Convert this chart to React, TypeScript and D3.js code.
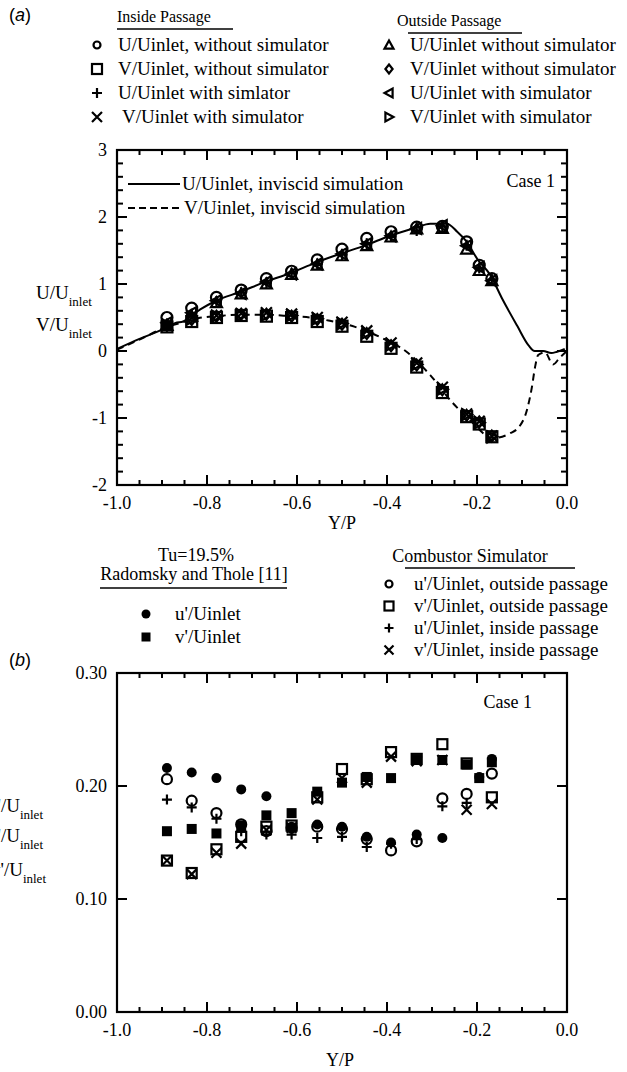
import React from 'react';
import * as d3 from 'd3';

const SERIF = '"Liberation Serif", "Times New Roman", Times, serif';
const SANS = '"Liberation Sans", Arial, Helvetica, sans-serif';

// Measurement stations across the passage, Y/P
const stations = [-0.889, -0.834, -0.779, -0.724, -0.668, -0.612, -0.555, -0.5, -0.445, -0.391, -0.334, -0.277, -0.223, -0.195, -0.167];

// (a) mean velocities — inside passage
const uInNoSim = [0.5, 0.64, 0.8, 0.91, 1.08, 1.19, 1.36, 1.52, 1.68, 1.78, 1.85, 1.86, 1.63, 1.28, 1.08];
const vInNoSim = [0.36, 0.44, 0.5, 0.53, 0.52, 0.5, 0.44, 0.37, 0.22, 0.04, -0.24, -0.62, -0.98, -1.09, -1.28];
const uInSim = [0.4, 0.55, 0.74, 0.87, 1.02, 1.16, 1.3, 1.44, 1.6, 1.71, 1.8, 1.86, 1.58, 1.24, 1.06];
const vInSim = [0.4, 0.5, 0.53, 0.56, 0.57, 0.55, 0.5, 0.43, 0.3, 0.12, -0.18, -0.54, -0.94, -1.05, -1.27];
// (a) mean velocities — outside passage
const uOutNoSim = [0.38, 0.52, 0.72, 0.85, 1.0, 1.14, 1.28, 1.42, 1.57, 1.7, 1.82, 1.83, 1.52, 1.2, 1.05];
const vOutNoSim = [0.38, 0.47, 0.52, 0.55, 0.55, 0.52, 0.47, 0.4, 0.26, 0.08, -0.21, -0.58, -0.96, -1.06, -1.27];
const uOutSim = [0.42, 0.57, 0.75, 0.86, 1.03, 1.15, 1.3, 1.45, 1.6, 1.72, 1.83, 1.87, 1.57, 1.25, 1.05];
const vOutSim = [0.39, 0.48, 0.52, 0.54, 0.54, 0.53, 0.48, 0.41, 0.27, 0.09, -0.2, -0.57, -0.95, -1.07, -1.28];

// (a) inviscid simulation profiles [Y/P, value]
const inviscidU: [number, number][] = [
  [-1.0, 0.03], [-0.95, 0.18], [-0.893, 0.34], [-0.87, 0.42], [-0.853, 0.44], [-0.838, 0.52], [-0.815, 0.62],
  [-0.78, 0.75], [-0.727, 0.88], [-0.671, 1.03], [-0.616, 1.16], [-0.558, 1.32], [-0.504, 1.45], [-0.447, 1.58],
  [-0.393, 1.72], [-0.336, 1.84], [-0.304, 1.9], [-0.267, 1.9], [-0.244, 1.78], [-0.224, 1.64], [-0.198, 1.36],
  [-0.171, 1.14], [-0.144, 0.78], [-0.111, 0.38], [-0.085, 0.08], [-0.072, 0.0], [-0.053, 0.0], [-0.035, -0.03],
  [-0.022, -0.01], [-0.005, 0.03],
];
const inviscidV: [number, number][] = [
  [-1.0, 0.02], [-0.95, 0.17], [-0.893, 0.35], [-0.853, 0.43], [-0.82, 0.49], [-0.78, 0.52], [-0.727, 0.54],
  [-0.671, 0.54], [-0.616, 0.52], [-0.558, 0.49], [-0.527, 0.45], [-0.471, 0.36], [-0.416, 0.21], [-0.353, -0.03],
  [-0.304, -0.36], [-0.256, -0.76], [-0.216, -1.03], [-0.164, -1.3], [-0.127, -1.23], [-0.105, -1.12],
  [-0.089, -0.88], [-0.078, -0.54], [-0.071, -0.24], [-0.064, -0.06], [-0.049, -0.02], [-0.031, -0.2],
  [-0.016, -0.1], [0.0, 0.0],
];

// (b) fluctuations — Radomsky and Thole, Tu = 19.5%
const radU = [0.216, 0.212, 0.207, 0.197, 0.191, 0.163, 0.166, 0.164, 0.155, 0.15, 0.157, 0.154, null, 0.208, 0.224];
const radV = [0.16, 0.162, 0.158, 0.165, 0.174, 0.176, 0.195, 0.203, 0.208, 0.207, 0.223, 0.223, 0.219, 0.207, 0.221];
// (b) fluctuations — combustor simulator
const uPrimeOut = [0.206, 0.187, 0.176, 0.166, 0.16, 0.163, 0.164, 0.162, 0.153, 0.143, 0.151, 0.189, 0.193, null, 0.211];
const vPrimeOut = [0.134, 0.123, 0.144, 0.155, 0.164, 0.165, 0.19, 0.215, 0.206, 0.23, 0.224, 0.237, 0.22, null, 0.19];
const uPrimeIn = [0.188, 0.181, 0.171, 0.16, 0.157, 0.157, 0.154, 0.155, 0.146, 0.149, 0.153, 0.182, 0.185, null, null];
const vPrimeIn = [0.134, 0.122, 0.141, 0.149, 0.161, 0.163, 0.188, 0.207, 0.203, 0.226, 0.222, 0.223, 0.179, null, 0.184];

// Legend texts
const insideLabels = ['U/Uinlet, without simulator', 'V/Uinlet, without simulator', 'U/Uinlet with simlator', 'V/Uinlet with simulator'];
const outsideLabels = ['U/Uinlet without simulator', 'V/Uinlet without simulator', 'U/Uinlet with simulator', 'V/Uinlet with simulator'];
const radLabels = ["u'/Uinlet", "v'/Uinlet"];
const combLabels = ["u'/Uinlet, outside passage", "v'/Uinlet, outside passage", "u'/Uinlet, inside passage", "v'/Uinlet, inside passage"];

type Kind = 'circle' | 'square' | 'plus' | 'cross' | 'triUp' | 'diamond' | 'triLeft' | 'triRight' | 'dot' | 'block';

function Marker({ kind, x, y, r = 5 }: { kind: Kind; x: number; y: number; r?: number }) {
  const s = { stroke: '#000', strokeWidth: 2.2, fill: 'none' } as const;
  switch (kind) {
    case 'circle':
      return <circle cx={x} cy={y} r={r} {...s} />;
    case 'dot':
      return <circle cx={x} cy={y} r={r} fill="#000" />;
    case 'square':
      return <rect x={x - r} y={y - r} width={2 * r} height={2 * r} {...s} />;
    case 'block':
      return <rect x={x - r} y={y - r} width={2 * r} height={2 * r} fill="#000" />;
    case 'plus':
      return <path d={`M${x - r},${y}H${x + r}M${x},${y - r}V${y + r}`} {...s} />;
    case 'cross':
      return <path d={`M${x - r},${y - r}L${x + r},${y + r}M${x + r},${y - r}L${x - r},${y + r}`} {...s} />;
    case 'triUp':
      return <path d={`M${x},${y - r}L${x + r},${y + r * 0.8}L${x - r},${y + r * 0.8}Z`} {...s} />;
    case 'diamond':
      return <path d={`M${x},${y - r}L${x + r * 0.8},${y}L${x},${y + r}L${x - r * 0.8},${y}Z`} {...s} />;
    case 'triLeft':
      return <path d={`M${x - r},${y}L${x + r * 0.8},${y - r}L${x + r * 0.8},${y + r}Z`} {...s} />;
    case 'triRight':
      return <path d={`M${x + r},${y}L${x - r * 0.8},${y - r}L${x - r * 0.8},${y + r}Z`} {...s} />;
  }
  return null;
}

const xA = d3.scaleLinear().domain([-1, 0]).range([117, 567]);
const yA = d3.scaleLinear().domain([-2, 3]).range([485, 150]);
const xB = d3.scaleLinear().domain([-1, 0]).range([117, 567]);
const yB = d3.scaleLinear().domain([0, 0.3]).range([1012, 673]);

const fmtX = (v: number) => (Math.abs(v) < 1e-9 ? '0.0' : v.toFixed(1));

function Frame({
  x, y, yMajor, yMinor, yFmt, case1,
}: {
  x: d3.ScaleLinear<number, number>;
  y: d3.ScaleLinear<number, number>;
  yMajor: number[];
  yMinor: number[];
  yFmt: (v: number) => string;
  case1: [number, number];
}) {
  const [x0, x1] = x.range();
  const [y0, y1] = y.range();
  const xMajor = d3.ticks(-1, 0, 5);
  const xMinor = d3.ticks(-1, 0, 20);
  const isMajor = (v: number, arr: number[]) => arr.some((m) => Math.abs(m - v) < 1e-9);
  return (
    <g>
      <rect x={x0} y={y1} width={x1 - x0} height={y0 - y1} fill="none" stroke="#000" strokeWidth={2.2} />
      {xMinor.map((v, i) => {
        const len = isMajor(v, xMajor) ? 10 : 5;
        const px = x(v);
        return (
          <g key={'xt' + i}>
            <line x1={px} x2={px} y1={y0} y2={y0 - len} stroke="#000" strokeWidth={2} />
            <line x1={px} x2={px} y1={y1} y2={y1 + len} stroke="#000" strokeWidth={2} />
          </g>
        );
      })}
      {yMinor.map((v, i) => {
        const len = isMajor(v, yMajor) ? 10 : 6;
        const py = y(v);
        return (
          <g key={'yt' + i}>
            <line x1={x0} x2={x0 + len} y1={py} y2={py} stroke="#000" strokeWidth={2} />
            <line x1={x1} x2={x1 - len} y1={py} y2={py} stroke="#000" strokeWidth={2} />
          </g>
        );
      })}
      {xMajor.map((v, i) => (
        <text key={'xl' + i} x={x(v)} y={y0 + 24} textAnchor="middle" fontSize={18} fontFamily={SERIF}>
          {fmtX(v)}
        </text>
      ))}
      {yMajor.map((v, i) => (
        <text key={'yl' + i} x={x0 - 10} y={y(v) + 6} textAnchor="end" fontSize={18} fontFamily={SERIF}>
          {yFmt(v)}
        </text>
      ))}
      <text x={case1[0]} y={case1[1]} textAnchor="end" fontSize={18} fontFamily={SERIF}>Case 1</text>
    </g>
  );
}

function SubLabel({ x, y, main, anchor = 'start' }: { x: number; y: number; main: string; anchor?: string }) {
  return (
    <text x={x} y={y} fontSize={19} fontFamily={SERIF} textAnchor={anchor as any}>
      {main}
      <tspan fontSize={13} dy={7}>inlet</tspan>
    </text>
  );
}

export default function App() {
  const seriesA: { values: number[]; kind: Kind }[] = [
    { values: uInNoSim, kind: 'circle' },
    { values: vInNoSim, kind: 'square' },
    { values: uOutNoSim, kind: 'triUp' },
    { values: vOutNoSim, kind: 'diamond' },
    { values: uOutSim, kind: 'triLeft' },
    { values: vOutSim, kind: 'triRight' },
    { values: uInSim, kind: 'plus' },
    { values: vInSim, kind: 'cross' },
  ];
  const seriesB: { values: (number | null)[]; kind: Kind }[] = [
    { values: uPrimeOut, kind: 'circle' },
    { values: vPrimeOut, kind: 'square' },
    { values: uPrimeIn, kind: 'plus' },
    { values: vPrimeIn, kind: 'cross' },
    { values: radU, kind: 'dot' },
    { values: radV, kind: 'block' },
  ];
  const line = d3.line<[number, number]>().x((d) => xA(d[0])).y((d) => yA(d[1])).curve(d3.curveMonotoneX);
  const insideKinds: Kind[] = ['circle', 'square', 'plus', 'cross'];
  const outsideKinds: Kind[] = ['triUp', 'diamond', 'triLeft', 'triRight'];
  const combKinds: Kind[] = ['circle', 'square', 'plus', 'cross'];
  const radKinds: Kind[] = ['dot', 'block'];
  const rowsA = [45, 69, 93, 117];

  return (
    <svg width={627} height={1072} style={{ position: 'absolute', left: 0, top: 0, background: '#fff' }} fontFamily={SERIF}>
      <rect width={627} height={1072} fill="#fff" />
      {/* panel (a) header legend */}
      <text x={9} y={21} fontSize={18} fontFamily={SANS}>(<tspan fontStyle="italic">a</tspan>)</text>
      <text x={117} y={22} fontSize={16}>Inside Passage</text>
      <line x1={117} x2={233} y1={29} y2={29} stroke="#000" strokeWidth={1.5} />
      {insideLabels.map((t, i) => (
        <g key={'il' + i}>
          <Marker kind={insideKinds[i]} x={97} y={rowsA[i]} r={i === 0 ? 3.5 : 5} />
          <text x={i === 3 ? 122 : 118} y={rowsA[i] + 6} fontSize={19}>{t}</text>
        </g>
      ))}
      <text x={397} y={26} fontSize={16}>Outside Passage</text>
      <line x1={408} x2={522} y1={33} y2={33} stroke="#000" strokeWidth={1.5} />
      {outsideLabels.map((t, i) => (
        <g key={'ol' + i}>
          <Marker kind={outsideKinds[i]} x={389} y={rowsA[i]} r={4.5} />
          <text x={410} y={rowsA[i] + 6} fontSize={19}>{t}</text>
        </g>
      ))}

      {/* panel (a) */}
      <Frame x={xA} y={yA} yMajor={d3.ticks(-2, 3, 5)} yMinor={d3.ticks(-2, 3, 25)} yFmt={(v) => String(v)} case1={[555, 187]} />
      <path d={line(inviscidU) || ''} fill="none" stroke="#000" strokeWidth={2} />
      <path d={line(inviscidV) || ''} fill="none" stroke="#000" strokeWidth={2} strokeDasharray="7 5" />
      {seriesA.map((s, si) =>
        s.values.map((v, i) => <Marker key={`a${si}-${i}`} kind={s.kind} x={xA(stations[i])} y={yA(v)} r={5.5} />),
      )}
      <line x1={128} x2={180} y1={184} y2={184} stroke="#000" strokeWidth={2} />
      <text x={182} y={190} fontSize={19}>U/Uinlet, inviscid simulation</text>
      <line x1={128} x2={180} y1={208} y2={208} stroke="#000" strokeWidth={2} strokeDasharray="7 4" />
      <text x={184} y={214} fontSize={19}>V/Uinlet, inviscid simulation</text>
      <SubLabel x={36} y={299} main="U/U" />
      <SubLabel x={36} y={331} main="V/U" />
      <text x={342} y={529} textAnchor="middle" fontSize={18}>Y/P</text>

      {/* panel (b) legends */}
      <text x={196} y={561} textAnchor="middle" fontSize={18}>Tu=19.5%</text>
      <text x={194} y={580} textAnchor="middle" fontSize={18}>Radomsky and Thole [11]</text>
      <line x1={100} x2={287} y1={588} y2={588} stroke="#000" strokeWidth={1.5} />
      {radLabels.map((t, i) => (
        <g key={'rl' + i}>
          <Marker kind={radKinds[i]} x={146} y={614 + i * 23} r={4.5} />
          <text x={175} y={620 + i * 23} fontSize={19}>{t}</text>
        </g>
      ))}
      <text x={470} y={562} textAnchor="middle" fontSize={18}>Combustor Simulator</text>
      <line x1={405} x2={575} y1={568} y2={568} stroke="#000" strokeWidth={1.5} />
      {combLabels.map((t, i) => (
        <g key={'cl' + i}>
          <Marker kind={combKinds[i]} x={389} y={584 + i * 22} r={i === 0 ? 3.5 : 4.5} />
          <text x={414} y={590 + i * 22} fontSize={19}>{t}</text>
        </g>
      ))}
      <text x={9} y={666} fontSize={18} fontFamily={SANS}>(<tspan fontStyle="italic">b</tspan>)</text>

      {/* panel (b) */}
      <Frame x={xB} y={yB} yMajor={[0, 0.1, 0.2, 0.3]} yMinor={[0, 0.1, 0.2, 0.3]} yFmt={(v) => v.toFixed(2)} case1={[532, 708]} />
      {seriesB.map((s, si) =>
        s.values.map((v, i) =>
          v == null ? null : <Marker key={`b${si}-${i}`} kind={s.kind} x={xB(stations[i])} y={yB(v)} r={5} />,
        ),
      )}
      <SubLabel x={43} y={812} main="u'/U" anchor="end" />
      <SubLabel x={43} y={842} main="v'/U" anchor="end" />
      <SubLabel x={46} y={876} main="w'/U" anchor="end" />
      <text x={340} y={1066} textAnchor="middle" fontSize={18}>Y/P</text>
    </svg>
  );
}
